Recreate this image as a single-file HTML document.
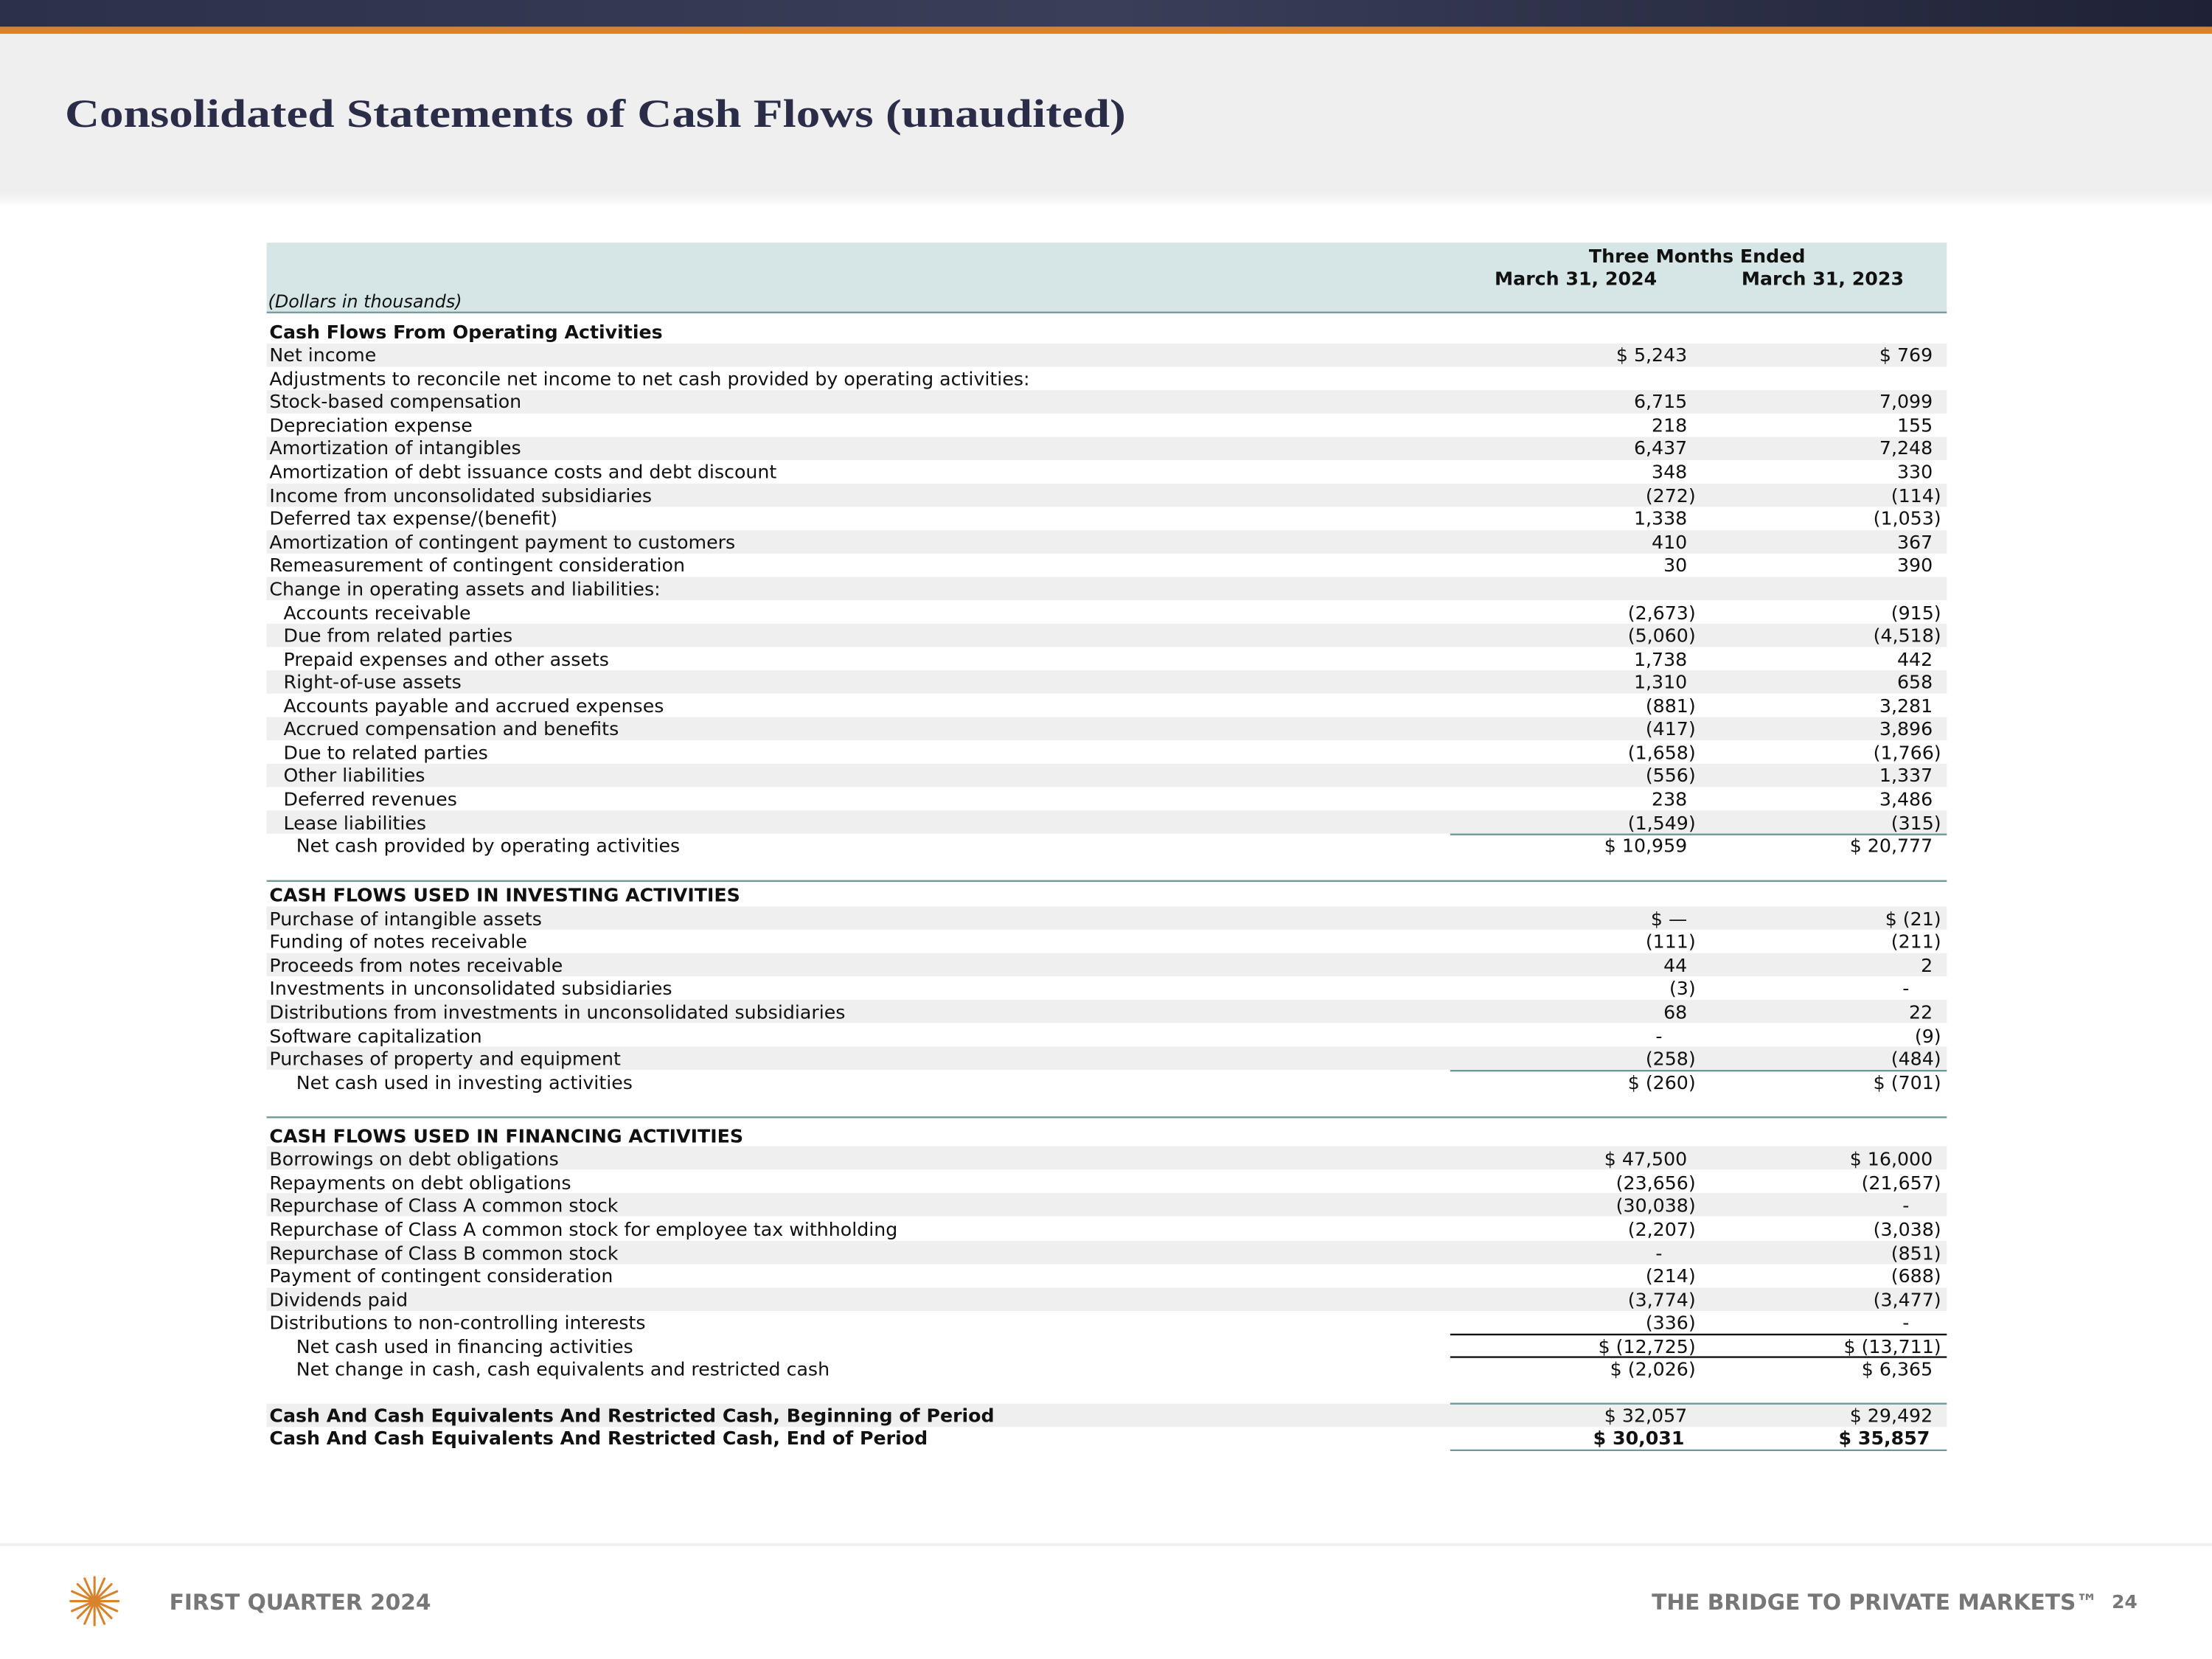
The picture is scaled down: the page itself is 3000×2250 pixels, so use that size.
<!DOCTYPE html>
<html><head><meta charset="utf-8"><style>html,body{margin:0;padding:0;background:#fff}svg{display:block}</style></head>
<body>
<svg width="3000" height="2250" viewBox="0 0 1568 1176" xmlns="http://www.w3.org/2000/svg" font-family="'DejaVu Sans','Liberation Sans',sans-serif" font-size="13.2" fill="#111">
<defs>
<linearGradient id="hd" x1="0" y1="0" x2="1" y2="0"><stop offset="0" stop-color="#2c3048"/><stop offset="0.5" stop-color="#3a3e58"/><stop offset="1" stop-color="#1f2236"/></linearGradient>
<linearGradient id="fade" x1="0" y1="0" x2="0" y2="1"><stop offset="0" stop-color="#efefef"/><stop offset="1" stop-color="#ffffff"/></linearGradient>
</defs>
<rect x="0" y="0" width="1568" height="19" fill="url(#hd)"/>
<rect x="0" y="19" width="1568" height="5" fill="#d8832c"/>
<rect x="0" y="24" width="1568" height="113" fill="#efefef"/>
<rect x="0" y="137" width="1568" height="10" fill="url(#fade)"/>
<text x="46" y="90" font-family="'Liberation Serif',serif" font-weight="bold" font-size="28" fill="#2b2d48" textLength="752" lengthAdjust="spacingAndGlyphs">Consolidated Statements of Cash Flows (unaudited)</text>

<rect x="189" y="172" width="1191" height="49" fill="#d6e6e6"/>
<line x1="189" y1="221.5" x2="1380" y2="221.5" stroke="#6f9898" stroke-width="1.2"/>
<text x="1203" y="186" text-anchor="middle" font-weight="bold">Three Months Ended</text>
<text x="1117" y="202" text-anchor="middle" font-weight="bold">March 31, 2024</text>
<text x="1292" y="202" text-anchor="middle" font-weight="bold">March 31, 2023</text>
<text x="190" y="218" font-style="italic" font-size="12.5">(Dollars in thousands)</text>

<g fill="#efefef">
<rect x="189" y="243.5" width="1191" height="16.5"/>
<rect x="189" y="276.6" width="1191" height="16.5"/>
<rect x="189" y="309.7" width="1191" height="16.5"/>
<rect x="189" y="342.8" width="1191" height="16.5"/>
<rect x="189" y="375.9" width="1191" height="16.5"/>
<rect x="189" y="409" width="1191" height="16.5"/>
<rect x="189" y="442.1" width="1191" height="16.5"/>
<rect x="189" y="475.2" width="1191" height="16.5"/>
<rect x="189" y="508.3" width="1191" height="16.5"/>
<rect x="189" y="541.4" width="1191" height="16.5"/>
<rect x="189" y="574.5" width="1191" height="16.5"/>
<rect x="189" y="642.5" width="1191" height="16.5"/>
<rect x="189" y="675.6" width="1191" height="16.5"/>
<rect x="189" y="708.7" width="1191" height="16.5"/>
<rect x="189" y="741.8" width="1191" height="16.5"/>
<rect x="189" y="812.5" width="1191" height="16.5"/>
<rect x="189" y="845.6" width="1191" height="16.5"/>
<rect x="189" y="879.7" width="1191" height="16.5"/>
<rect x="189" y="912.8" width="1191" height="16.5"/>
<rect x="189" y="995" width="1191" height="16.5"/>
</g>

<g stroke="#6f9898" stroke-width="1.2">
<line x1="1028" y1="591.5" x2="1380" y2="591.5"/>
<line x1="189" y1="624.5" x2="1380" y2="624.5"/>
<line x1="1028" y1="759" x2="1380" y2="759"/>
<line x1="189" y1="792" x2="1380" y2="792"/>
<line x1="1028" y1="995" x2="1380" y2="995"/>
<line x1="1028" y1="1028" x2="1380" y2="1028"/>
</g>
<g stroke="#111" stroke-width="1.2">
<line x1="1028" y1="946" x2="1380" y2="946"/>
<line x1="1028" y1="962" x2="1380" y2="962"/>
</g>

<g>
<text x="191" y="240" font-weight="bold">Cash Flows From Operating Activities</text>
<text x="191" y="256">Net income</text>
<text x="191" y="273">Adjustments to reconcile net income to net cash provided by operating activities:</text>
<text x="191" y="289">Stock-based compensation</text>
<text x="191" y="306">Depreciation expense</text>
<text x="191" y="322">Amortization of intangibles</text>
<text x="191" y="339">Amortization of debt issuance costs and debt discount</text>
<text x="191" y="356">Income from unconsolidated subsidiaries</text>
<text x="191" y="372">Deferred tax expense/(benefit)</text>
<text x="191" y="389">Amortization of contingent payment to customers</text>
<text x="191" y="405">Remeasurement of contingent consideration</text>
<text x="191" y="422">Change in operating assets and liabilities:</text>
<text x="201" y="439">Accounts receivable</text>
<text x="201" y="455">Due from related parties</text>
<text x="201" y="472">Prepaid expenses and other assets</text>
<text x="201" y="488">Right-of-use assets</text>
<text x="201" y="505">Accounts payable and accrued expenses</text>
<text x="201" y="521">Accrued compensation and benefits</text>
<text x="201" y="538">Due to related parties</text>
<text x="201" y="554">Other liabilities</text>
<text x="201" y="571">Deferred revenues</text>
<text x="201" y="588">Lease liabilities</text>
<text x="210" y="604">Net cash provided by operating activities</text>

<text x="191" y="639" font-weight="bold">CASH FLOWS USED IN INVESTING ACTIVITIES</text>
<text x="191" y="656">Purchase of intangible assets</text>
<text x="191" y="672">Funding of notes receivable</text>
<text x="191" y="689">Proceeds from notes receivable</text>
<text x="191" y="705">Investments in unconsolidated subsidiaries</text>
<text x="191" y="722">Distributions from investments in unconsolidated subsidiaries</text>
<text x="191" y="739">Software capitalization</text>
<text x="191" y="755">Purchases of property and equipment</text>
<text x="210" y="772">Net cash used in investing activities</text>

<text x="191" y="810" font-weight="bold">CASH FLOWS USED IN FINANCING ACTIVITIES</text>
<text x="191" y="826">Borrowings on debt obligations</text>
<text x="191" y="843">Repayments on debt obligations</text>
<text x="191" y="859">Repurchase of Class A common stock</text>
<text x="191" y="876">Repurchase of Class A common stock for employee tax withholding</text>
<text x="191" y="893">Repurchase of Class B common stock</text>
<text x="191" y="909">Payment of contingent consideration</text>
<text x="191" y="926">Dividends paid</text>
<text x="191" y="942">Distributions to non-controlling interests</text>
<text x="210" y="959">Net cash used in financing activities</text>
<text x="210" y="975">Net change in cash, cash equivalents and restricted cash</text>
<text x="191" y="1008" font-weight="bold">Cash And Cash Equivalents And Restricted Cash, Beginning of Period</text>
<text x="191" y="1024" font-weight="bold">Cash And Cash Equivalents And Restricted Cash, End of Period</text>
</g>

<g text-anchor="end">
<text x="1196" y="256">$ 5,243</text><text x="1370" y="256">$ 769</text>
<text x="1196" y="289">6,715</text><text x="1370" y="289">7,099</text>
<text x="1196" y="306">218</text><text x="1370" y="306">155</text>
<text x="1196" y="322">6,437</text><text x="1370" y="322">7,248</text>
<text x="1196" y="339">348</text><text x="1370" y="339">330</text>
<text x="1202" y="356">(272)</text><text x="1376" y="356">(114)</text>
<text x="1196" y="372">1,338</text><text x="1376" y="372">(1,053)</text>
<text x="1196" y="389">410</text><text x="1370" y="389">367</text>
<text x="1196" y="405">30</text><text x="1370" y="405">390</text>
<text x="1202" y="439">(2,673)</text><text x="1376" y="439">(915)</text>
<text x="1202" y="455">(5,060)</text><text x="1376" y="455">(4,518)</text>
<text x="1196" y="472">1,738</text><text x="1370" y="472">442</text>
<text x="1196" y="488">1,310</text><text x="1370" y="488">658</text>
<text x="1202" y="505">(881)</text><text x="1370" y="505">3,281</text>
<text x="1202" y="521">(417)</text><text x="1370" y="521">3,896</text>
<text x="1202" y="538">(1,658)</text><text x="1376" y="538">(1,766)</text>
<text x="1202" y="554">(556)</text><text x="1370" y="554">1,337</text>
<text x="1196" y="571">238</text><text x="1370" y="571">3,486</text>
<text x="1202" y="588">(1,549)</text><text x="1376" y="588">(315)</text>
<text x="1196" y="604">$ 10,959</text><text x="1370" y="604">$ 20,777</text>

<text x="1196" y="656">$ —</text><text x="1376" y="656">$ (21)</text>
<text x="1202" y="672">(111)</text><text x="1376" y="672">(211)</text>
<text x="1196" y="689">44</text><text x="1370" y="689">2</text>
<text x="1202" y="705">(3)</text>
<text x="1196" y="722">68</text><text x="1370" y="722">22</text>
<text x="1376" y="739">(9)</text>
<text x="1202" y="755">(258)</text><text x="1376" y="755">(484)</text>
<text x="1202" y="772">$ (260)</text><text x="1376" y="772">$ (701)</text>

<text x="1196" y="826">$ 47,500</text><text x="1370" y="826">$ 16,000</text>
<text x="1202" y="843">(23,656)</text><text x="1376" y="843">(21,657)</text>
<text x="1202" y="859">(30,038)</text>
<text x="1202" y="876">(2,207)</text><text x="1376" y="876">(3,038)</text>
<text x="1376" y="893">(851)</text>
<text x="1202" y="909">(214)</text><text x="1376" y="909">(688)</text>
<text x="1202" y="926">(3,774)</text><text x="1376" y="926">(3,477)</text>
<text x="1202" y="942">(336)</text>
<text x="1202" y="959">$ (12,725)</text><text x="1376" y="959">$ (13,711)</text>
<text x="1202" y="975">$ (2,026)</text><text x="1370" y="975">$ 6,365</text>
<text x="1196" y="1008">$ 32,057</text><text x="1370" y="1008">$ 29,492</text>
<text x="1194" y="1024" font-weight="bold">$ 30,031</text><text x="1368" y="1024" font-weight="bold">$ 35,857</text>
</g>
<g text-anchor="middle">
<text x="1351" y="705">-</text>
<text x="1176" y="739">-</text>
<text x="1351" y="859">-</text>
<text x="1176" y="893">-</text>
<text x="1351" y="942">-</text>
</g>

<rect x="0" y="1094" width="1568" height="2" fill="#efefef"/>
<g stroke="#d8832c" stroke-width="1.6" stroke-linecap="round">
<line x1="67" y1="1118" x2="67" y2="1152"/>
<line x1="50" y1="1135" x2="84" y2="1135"/>
<line x1="55" y1="1123" x2="79" y2="1147"/>
<line x1="79" y1="1123" x2="55" y2="1147"/>
<line x1="60" y1="1119" x2="74" y2="1151"/>
<line x1="74" y1="1119" x2="60" y2="1151"/>
<line x1="51" y1="1128" x2="83" y2="1142"/>
<line x1="83" y1="1128" x2="51" y2="1142"/>
</g>
<text x="120" y="1141" font-weight="bold" font-size="15.5" fill="#777">FIRST QUARTER 2024</text>
<text x="1487" y="1141" text-anchor="end" font-weight="bold" font-size="15.5" fill="#777">THE BRIDGE TO PRIVATE MARKETS™</text>
<text x="1497" y="1140" font-weight="bold" font-size="13" fill="#777">24</text>
</svg>
</body></html>
